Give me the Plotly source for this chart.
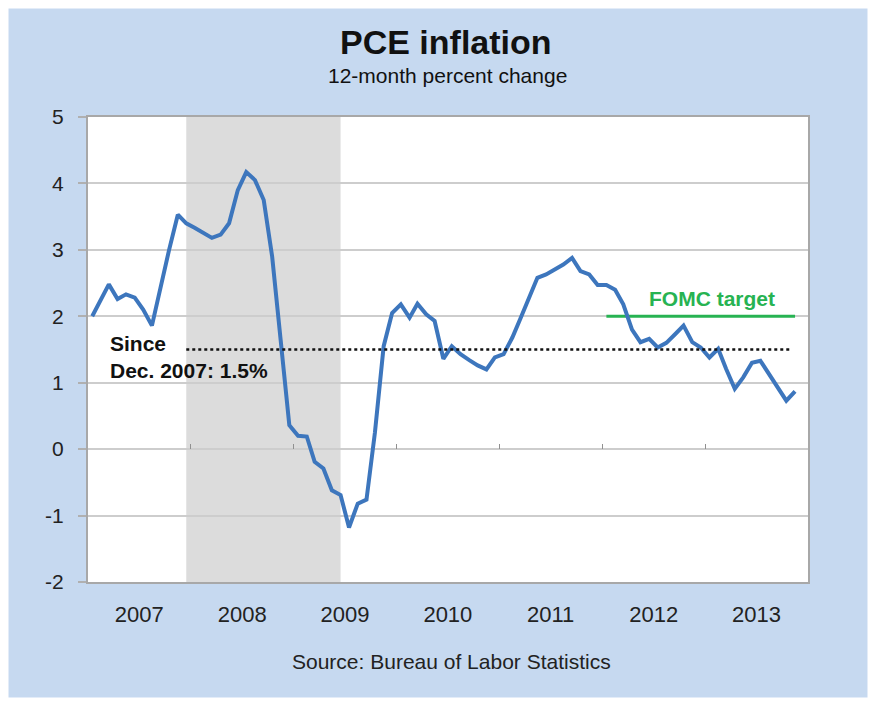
import pandas as pd
import plotly.graph_objects as go

# ---- data ----
start_month = "2007-01-01"
pce_yoy = [2.0, 2.25, 2.48, 2.26, 2.33, 2.28, 2.1, 1.86, 2.45, 3.0, 3.53, 3.4,
           3.33, 3.25, 3.18, 3.23, 3.4, 3.9, 4.17, 4.05, 3.75, 2.9, 1.6, 0.36,
           0.2, 0.19, -0.19, -0.29, -0.62, -0.69, -1.18, -0.82, -0.76, 0.25, 1.55, 2.05,
           2.18, 1.98, 2.19, 2.03, 1.93, 1.36, 1.55, 1.43, 1.34, 1.26, 1.2, 1.38,
           1.43, 1.68, 1.96, 2.28, 2.58, 2.63, 2.7, 2.78, 2.88, 2.68, 2.63, 2.47,
           2.47, 2.4, 2.18, 1.8, 1.61, 1.66, 1.53, 1.6, 1.73, 1.86, 1.61, 1.53,
           1.38, 1.51, 1.21, 0.91, 1.08, 1.3, 1.33, 1.13, 0.93, 0.73, 0.87]
years = ["2007", "2008", "2009", "2010", "2011", "2012", "2013"]
year_mid = ["2007-07-02", "2008-07-02", "2009-07-02", "2010-07-02",
            "2011-07-02", "2012-07-02", "2013-07-02"]
year_bounds = ["2008-01-01", "2009-01-01", "2010-01-01", "2011-01-01",
               "2012-01-01", "2013-01-01"]
recession = ["2007-12-16", "2009-06-16"]
avg_since = 1.5
avg_span = ["2007-12-16", "2013-11-03"]
fomc_target = 2.0
fomc_span = ["2012-01-16", "2013-11-16"]
x_range = ["2007-01-01", "2014-01-01"]
y_ticks = [-2, -1, 0, 1, 2, 3, 4, 5]
y_ticktext = ["-2", "-1", "0", "1", "2", "3", "4", "5"]

dates = pd.date_range(start_month, periods=len(pce_yoy), freq="MS") + pd.Timedelta(days=15)

FONT = "Liberation Sans, Arial, sans-serif"
BG = "#c6d9f0"
BLUE = "#3d76bd"
GREEN = "#27b352"

fig = go.Figure()

# average-since reference (on overlay axis so that axis renders)
fig.add_trace(go.Scatter(x=avg_span, y=[avg_since, avg_since], mode="lines",
                         line=dict(color="#111111", width=2.5, dash="dot"),
                         xaxis="x2", yaxis="y", hoverinfo="skip", showlegend=False))
fig.add_trace(go.Scatter(x=fomc_span, y=[fomc_target, fomc_target], mode="lines",
                         line=dict(color=GREEN, width=3), hoverinfo="skip", showlegend=False))
fig.add_trace(go.Scatter(x=dates, y=pce_yoy, mode="lines",
                         line=dict(color=BLUE, width=4), showlegend=False))

fig.add_shape(type="rect", xref="x", yref="paper", x0=recession[0], x1=recession[1],
              y0=0, y1=1, fillcolor="#dcdcdc", line=dict(width=0), layer="below")

# white frame around the picture
fig.add_shape(type="rect", xref="paper", yref="paper",
              x0=(0 - 88) / 720, x1=(876 - 88) / 720,
              y0=(582 - 706) / 465, y1=(582 - 0) / 465,
              line=dict(color="white", width=17), fillcolor="rgba(0,0,0,0)", layer="above")

fig.add_annotation(text="<b>PCE inflation</b>", xref="paper", yref="paper",
                   x=(446 - 88) / 720, y=(582 - 42) / 465, showarrow=False,
                   font=dict(family=FONT, size=34, color="#111111"),
                   xanchor="center", yanchor="middle")
fig.add_annotation(text="12-month percent change", xref="paper", yref="paper",
                   x=(447 - 88) / 720, y=(582 - 75) / 465, showarrow=False,
                   font=dict(family=FONT, size=21, color="#111111"),
                   xanchor="center", yanchor="middle")
fig.add_annotation(text="Source: Bureau of Labor Statistics", xref="paper", yref="paper",
                   x=(451 - 88) / 720, y=(582 - 661) / 465, showarrow=False,
                   font=dict(family=FONT, size=21, color="#222222"),
                   xanchor="center", yanchor="middle")
fig.add_annotation(text="<b>Since<br>Dec. 2007: 1.5%</b>", xref="paper", yref="y",
                   x=(108 - 88) / 720, y=1.38, showarrow=False, align="left",
                   font=dict(family=FONT, size=21, color="#111111"),
                   xanchor="left", yanchor="middle")
fig.add_annotation(text="<b>FOMC target</b>", xref="paper", yref="y",
                   x=(712 - 88) / 720, y=2.27, showarrow=False,
                   font=dict(family=FONT, size=21, color=GREEN),
                   xanchor="center", yanchor="middle")

fig.update_layout(
    width=876, height=706,
    margin=dict(l=88, r=68, t=117, b=124),
    paper_bgcolor=BG, plot_bgcolor="white",
    font=dict(family=FONT, color="#111111"),
    xaxis=dict(type="date", range=x_range, tickvals=year_mid, ticktext=years,
               ticks="outside", ticklen=12, tickcolor="rgba(0,0,0,0)",
               tickfont=dict(size=22, color="#222222"),
               showgrid=False, zeroline=False,
               showline=True, linecolor="#a8a8a8", linewidth=2, mirror=True),
    xaxis2=dict(type="date", range=x_range, overlaying="x", anchor="free",
                position=2 / 7, tickvals=year_bounds, ticks="inside", ticklen=5,
                tickcolor="#909090", tickwidth=1, showticklabels=False,
                showgrid=False, zeroline=False, showline=False),
    yaxis=dict(range=[-2, 5], tickvals=y_ticks, ticktext=y_ticktext,
               ticks="outside", ticklen=8,
               tickcolor="#b0b0b0", tickwidth=2,
               tickfont=dict(size=21, color="#222222"),
               showgrid=True, gridcolor="#cdcdcd", gridwidth=2,
               zeroline=False, ticklabelstandoff=10,
               showline=True, linecolor="#a8a8a8", linewidth=2, mirror=True),
)

fig.write_html("out.html")
